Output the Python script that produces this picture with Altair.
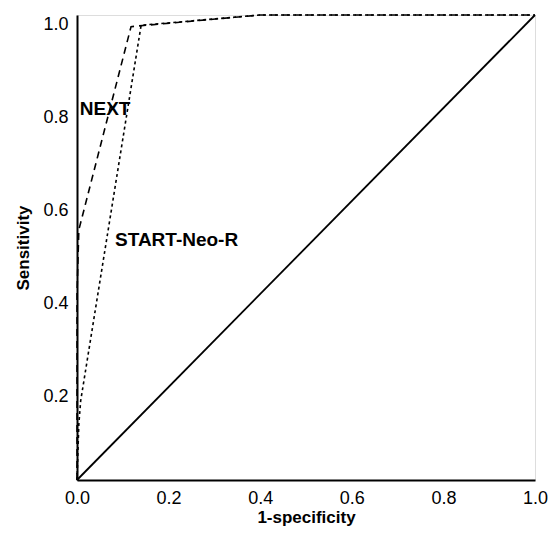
import altair as alt
import pandas as pd

# ROC curves (1-specificity, sensitivity)
next_fpr = [0.0, 0.0, 0.004, 0.118, 0.40, 1.0]
next_tpr = [0.0, 0.40, 0.538, 0.975, 1.0, 1.0]

neo_fpr = [0.0, 0.004, 0.008, 0.14, 0.40, 1.0]
neo_tpr = [0.0, 0.12, 0.17, 0.978, 1.0, 1.0]

diag_fpr = [0.0, 1.0]
diag_tpr = [0.0, 1.0]

label_text = ["NEXT", "START-Neo-R"]
label_x = [0.006, 0.083]
label_y = [0.797, 0.516]

x_ticks = [0.0, 0.2, 0.4, 0.6, 0.8, 1.0]
y_ticks = [0.2, 0.4, 0.6, 0.8, 1.0]

FONT = "Liberation Sans"

df_next = pd.DataFrame({"x": next_fpr, "y": next_tpr, "o": range(len(next_fpr))})
df_neo = pd.DataFrame({"x": neo_fpr, "y": neo_tpr, "o": range(len(neo_fpr))})
df_diag = pd.DataFrame({"x": diag_fpr, "y": diag_tpr, "o": range(len(diag_fpr))})
df_lab = pd.DataFrame({"t": label_text, "x": label_x, "y": label_y})

xs = alt.Scale(domain=[0, 1], nice=False, zero=False)
ys = alt.Scale(domain=[0, 1], nice=False, zero=False)

xenc = alt.X("x:Q", scale=xs, title="1-specificity",
             axis=alt.Axis(values=x_ticks, format=".1f", grid=False, ticks=False,
                           domainColor="black", domainWidth=2, labelPadding=9,
                           labelFontSize=18, labelColor="black", labelFont=FONT,
                           titleFont=FONT, titleFontSize=17, titleFontWeight="bold",
                           titleColor="black", titlePadding=2, labelFlush=False))
yenc = alt.Y("y:Q", scale=ys, title="Sensitivity",
             axis=alt.Axis(values=y_ticks, format=".1f", grid=False, ticks=False,
                           domainColor="black", domainWidth=2, labelPadding=9,
                           labelOffset=9,
                           labelFontSize=18, labelColor="black", labelFont=FONT,
                           titleFont=FONT, titleFontSize=17, titleFontWeight="bold",
                           titleColor="black", titlePadding=10, labelFlush=False))

diag = alt.Chart(df_diag).mark_line(color="black", strokeWidth=1.8).encode(
    x=xenc, y=yenc, order="o:Q")
nxt = alt.Chart(df_next).mark_line(color="black", strokeWidth=1.6, strokeDash=[7, 5]).encode(
    x=xenc, y=yenc, order="o:Q")
neo = alt.Chart(df_neo).mark_line(color="black", strokeWidth=1.6, strokeDash=[3, 3]).encode(
    x=xenc, y=yenc, order="o:Q")
labels = alt.Chart(df_lab).mark_text(align="left", baseline="middle", fontWeight="bold",
                                     fontSize=19, font=FONT, color="black").encode(
    x=alt.X("x:Q", scale=xs), y=alt.Y("y:Q", scale=ys), text="t:N")

chart = alt.layer(diag, nxt, neo, labels).properties(
    width=458, height=465,
    autosize=alt.AutoSizeParams(type="none"),
    padding={"left": 69, "top": 7, "right": 13, "bottom": 48},
).configure_view(stroke=None).configure(background="white")

chart.save("out.html", embed_options={"renderer": "svg", "actions": False})
